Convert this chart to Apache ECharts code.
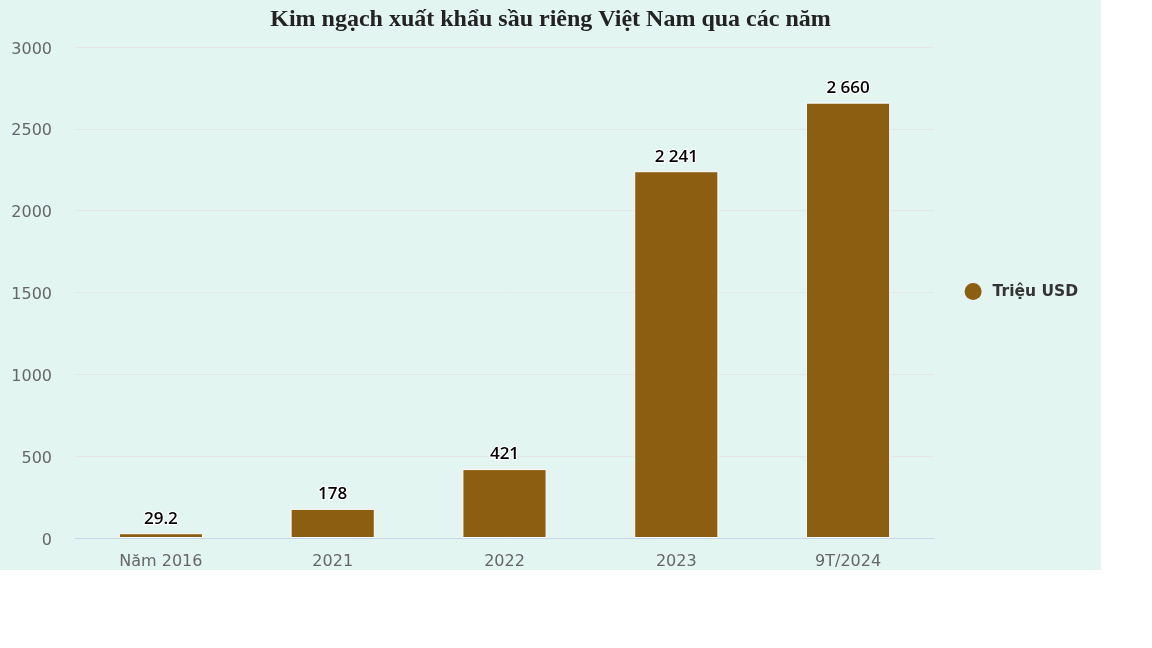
<!DOCTYPE html>
<html><head><meta charset="utf-8">
<script src="https://cdn.jsdelivr.net/npm/echarts@6/dist/echarts.min.js"></script>
<style>
html,body{margin:0;padding:0;background:#fff;}
#c{width:1101px;height:570px;background:#e3f5f1;}
</style></head>
<body><div id="c"></div>
<script>
const categories = ['Năm 2016', '2021', '2022', '2023', '9T/2024'];
const values = [29.2, 178, 421, 2241, 2660];
const yTicks = [0, 500, 1000, 1500, 2000, 2500, 3000];
const seriesName = 'Triệu USD';
const titleText = 'Kim ngạch xuất khẩu sầu riêng Việt Nam qua các năm';

function fmt(v){
  const s = String(v).split('.');
  s[0] = s[0].replace(/\B(?=(\d{3})+(?!\d))/g, ' ');
  return s.join('.');
}

const chart = echarts.init(document.getElementById('c'), null, {renderer:'canvas'});
chart.setOption({
  backgroundColor: '#e3f5f1',
  animation: false,
  title: {
    text: titleText, left: 'center', top: 3,
    textStyle: {fontFamily: 'Liberation Serif', fontWeight: 'bold', fontSize: 24, color: '#222'}
  },
  legend: {
    orient: 'vertical', right: 18, top: 278,
    icon: 'circle', itemWidth: 17, itemHeight: 17,
    itemStyle: {borderWidth: 0},
    textStyle: {fontFamily: 'DejaVu Sans', fontSize: 15.5, fontWeight: 'bold', color: '#333', padding: [0, 0, 0, 6]},
    data: [seriesName]
  },
  grid: {left: 75, right: 167, top: 47, bottom: 32, containLabel: false},
  xAxis: {
    type: 'category', data: categories,
    axisLine: {lineStyle: {color: '#ccd6eb', width: 1}},
    axisTick: {show: false},
    axisLabel: {fontFamily: 'DejaVu Sans', fontSize: 16, color: '#666', margin: 16}
  },
  yAxis: {
    type: 'value', min: yTicks[0], max: yTicks[yTicks.length-1], interval: 500,
    axisLine: {show: false}, axisTick: {show: false},
    splitLine: {lineStyle: {color: '#e6e6e6', width: 1}},
    axisLabel: {
      fontFamily: 'DejaVu Sans', fontSize: 16, color: '#666', margin: 23,
      formatter: v => '{a|' + v + '}',
      rich: {a: {fontFamily: 'DejaVu Sans', fontSize: 16, color: '#666', padding: [5, 0, 0, 0]}}
    }
  },
  series: [{
    name: seriesName, type: 'bar', data: values, barWidth: '49%',
    itemStyle: {color: '#8b5e12', borderColor: '#ffffff', borderWidth: 1},
    label: {
      show: true, position: 'top', distance: 6,
      formatter: p => fmt(p.value),
      fontFamily: 'Open Sans', fontSize: 17, fontWeight: 600, color: '#000',
      textBorderColor: '#fff', textBorderWidth: 2.5
    }
  }]
});
</script></body></html>
